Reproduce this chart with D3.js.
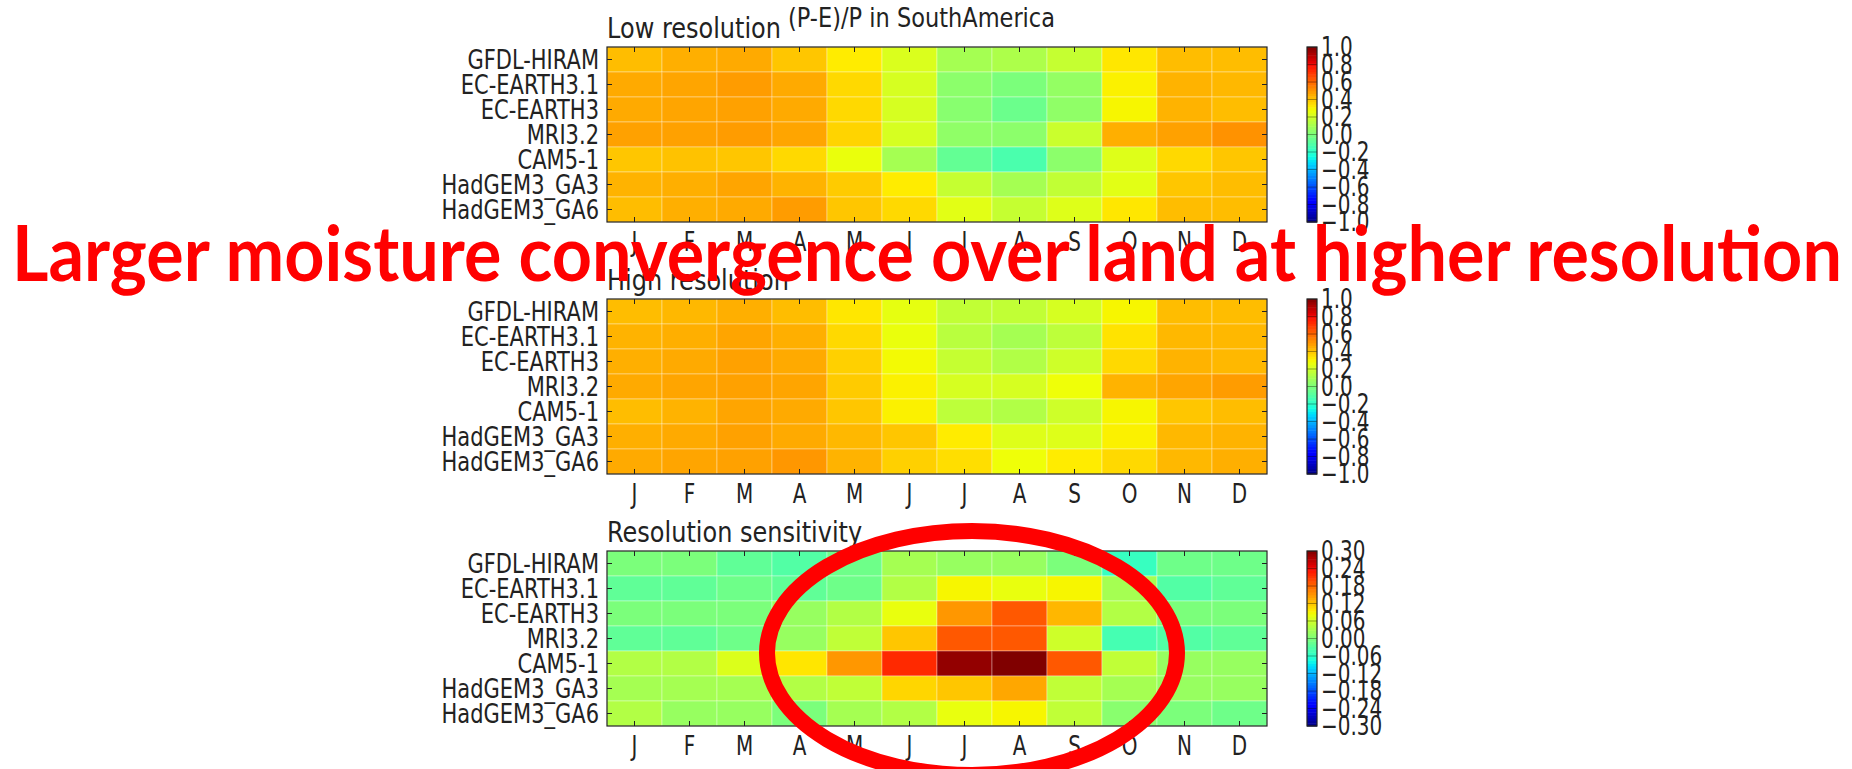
<!DOCTYPE html>
<html>
<head>
<meta charset="utf-8">
<script src="https://cdn.jsdelivr.net/npm/d3@7"></script>
<style>
  body { margin: 0; background: #fff; }
  svg { display: block; }
  text { font-family: "DejaVu Sans", sans-serif; fill: #222; }
</style>
</head>
<body>
<div id="chart"></div>
<script>
const months = ["J", "F", "M", "A", "M", "J", "J", "A", "S", "O", "N", "D"];
const models = ["GFDL-HIRAM", "EC-EARTH3.1", "EC-EARTH3", "MRI3.2", "CAM5-1", "HadGEM3_GA3", "HadGEM3_GA6"];

// (P-E)/P, low resolution runs
const lowRes = [
    [0.42, 0.45, 0.46, 0.40, 0.32, 0.23, 0.10, 0.12, 0.18, 0.33, 0.42, 0.42],
    [0.46, 0.47, 0.49, 0.46, 0.36, 0.22, 0.04, 0.00, 0.06, 0.31, 0.44, 0.43],
    [0.46, 0.47, 0.48, 0.46, 0.36, 0.22, 0.03, -0.04, 0.05, 0.30, 0.44, 0.42],
    [0.48, 0.48, 0.49, 0.47, 0.37, 0.22, 0.05, 0.04, 0.19, 0.45, 0.48, 0.51],
    [0.40, 0.41, 0.40, 0.36, 0.27, 0.10, -0.06, -0.12, 0.04, 0.24, 0.36, 0.40],
    [0.44, 0.45, 0.47, 0.44, 0.39, 0.32, 0.18, 0.10, 0.17, 0.25, 0.40, 0.42],
    [0.42, 0.45, 0.46, 0.49, 0.40, 0.36, 0.25, 0.18, 0.24, 0.33, 0.42, 0.42]
];

// (P-E)/P, high resolution runs
const highRes = [
    [0.42, 0.43, 0.45, 0.42, 0.33, 0.26, 0.17, 0.17, 0.22, 0.30, 0.42, 0.42],
    [0.44, 0.45, 0.47, 0.45, 0.36, 0.27, 0.15, 0.10, 0.16, 0.34, 0.43, 0.43],
    [0.45, 0.46, 0.48, 0.46, 0.38, 0.29, 0.18, 0.13, 0.20, 0.36, 0.44, 0.43],
    [0.46, 0.47, 0.48, 0.47, 0.39, 0.31, 0.22, 0.22, 0.28, 0.44, 0.47, 0.49],
    [0.42, 0.44, 0.47, 0.46, 0.40, 0.31, 0.16, 0.13, 0.20, 0.30, 0.40, 0.42],
    [0.45, 0.46, 0.48, 0.46, 0.43, 0.40, 0.32, 0.24, 0.24, 0.31, 0.43, 0.44],
    [0.46, 0.47, 0.48, 0.50, 0.44, 0.38, 0.35, 0.28, 0.32, 0.36, 0.43, 0.45]
];

// high minus low
const sensitivity = [
    [0.00, 0.00, -0.02, -0.03, -0.01, 0.03, 0.02, 0.02, 0.00, -0.05, -0.01, -0.01],
    [-0.02, -0.02, -0.01, -0.02, -0.01, 0.04, 0.09, 0.08, 0.09, 0.03, -0.03, -0.02],
    [0.00, 0.00, 0.00, 0.02, 0.04, 0.08, 0.15, 0.19, 0.13, 0.04, 0.00, 0.00],
    [-0.02, -0.02, -0.01, 0.02, 0.05, 0.12, 0.19, 0.19, 0.06, -0.04, -0.03, -0.02],
    [0.04, 0.04, 0.07, 0.10, 0.15, 0.22, 0.29, 0.30, 0.19, 0.05, 0.02, 0.02],
    [0.03, 0.03, 0.03, 0.04, 0.05, 0.11, 0.12, 0.14, 0.05, 0.03, 0.02, 0.02],
    [0.04, 0.02, 0.02, 0.00, 0.03, 0.04, 0.08, 0.09, 0.05, 0.01, 0.00, -0.01]
];

const ticksFull = [1.0, 0.8, 0.6, 0.4, 0.2, 0.0, -0.2, -0.4, -0.6, -0.8, -1.0];
const ticksSens = [0.30, 0.24, 0.18, 0.12, 0.06, 0.00, -0.06, -0.12, -0.18, -0.24, -0.30];

const W = 1852, H = 769;
const svg = d3.select("#chart").append("svg").attr("width", W).attr("height", H);

// matplotlib "jet"
const jr = d3.scaleLinear().domain([0, 0.35, 0.66, 0.89, 1]).range([0, 0, 1, 1, 0.5]).clamp(true);
const jg = d3.scaleLinear().domain([0, 0.125, 0.375, 0.64, 0.91, 1]).range([0, 0, 1, 1, 0, 0]).clamp(true);
const jb = d3.scaleLinear().domain([0, 0.11, 0.34, 0.65, 1]).range([0.5, 1, 1, 0, 0]).clamp(true);
const jet = t => d3.rgb(jr(t) * 255, jg(t) * 255, jb(t) * 255);

const panelW = 660, panelH = 175, left = 607;
const x = d3.scaleBand().domain(d3.range(12)).range([left, left + panelW]);

// the original figure was pasted stretched vertically, so text is too
const SY = 1.3;
const place = (px, py, sy) => `translate(${px},${py}) scale(1,${sy || SY})`;

function panel(top, title, sup, data, lim, ticks, fmt) {
    const g = svg.append("g");
    const y = d3.scaleBand().domain(d3.range(models.length)).range([top, top + panelH]);
    const norm = d3.scaleLinear().domain([-lim, lim]).range([0, 1]);

    data.forEach((row, i) => {
        g.selectAll(null).data(row).enter().append("rect")
            .attr("x", (d, j) => x(j))
            .attr("y", y(i))
            .attr("width", x.bandwidth())
            .attr("height", y.bandwidth())
            .attr("fill", d => jet(norm(d)))
            .attr("stroke", "rgba(255,255,255,0.35)")
            .attr("stroke-width", 1);
    });

    g.append("rect").attr("x", left).attr("y", top).attr("width", panelW).attr("height", panelH)
        .attr("fill", "none").attr("stroke", "#222").attr("stroke-width", 1.2);

    // inward ticks
    d3.range(12).forEach(j => {
        const cx = x(j) + x.bandwidth() / 2;
        g.append("line").attr("x1", cx).attr("x2", cx).attr("y1", top).attr("y2", top + 5).attr("stroke", "#222");
        g.append("line").attr("x1", cx).attr("x2", cx).attr("y1", top + panelH).attr("y2", top + panelH - 5).attr("stroke", "#222");
    });
    models.forEach((m, i) => {
        const cy = y(i) + y.bandwidth() / 2;
        g.append("line").attr("x1", left).attr("x2", left + 5).attr("y1", cy).attr("y2", cy).attr("stroke", "#222");
        g.append("line").attr("x1", left + panelW).attr("x2", left + panelW - 5).attr("y1", cy).attr("y2", cy).attr("stroke", "#222");
    });

    g.selectAll(null).data(models).enter().append("text")
        .attr("transform", (d, i) => place(left - 8, y(i) + y.bandwidth() / 2 + 9))
        .attr("text-anchor", "end")
        .style("font-size", "21px")
        .text(d => d);

    g.selectAll(null).data(months).enter().append("text")
        .attr("transform", (d, j) => place(x(j) + x.bandwidth() / 2, top + panelH + 29))
        .attr("text-anchor", "middle")
        .style("font-size", "20px")
        .text(d => d);

    const t = g.append("text").attr("transform", place(left, top - 9, 1.15)).style("font-size", "24px").text(title);
    if (sup) {
        t.append("tspan").attr("dx", 7).attr("dy", -10).style("font-size", "22.5px").text(sup);
    }

    // colorbar
    const cbX = 1307, cbW = 10;
    const cy = d3.scaleLinear().domain([-lim, lim]).range([top + panelH, top]);
    const steps = d3.range(0, 1, 1 / 64);
    g.selectAll(null).data(steps).enter().append("rect")
        .attr("x", cbX)
        .attr("y", d => top + panelH - (d + 1 / 64) * panelH)
        .attr("width", cbW)
        .attr("height", panelH / 64 + 0.5)
        .attr("fill", d => jet(d + 1 / 128));
    g.selectAll(null).data(ticks).enter().append("line")
        .attr("x1", cbX).attr("x2", cbX + cbW)
        .attr("y1", d => cy(d)).attr("y2", d => cy(d))
        .attr("stroke", "rgba(0,0,0,0.35)");
    g.append("rect").attr("x", cbX).attr("y", top).attr("width", cbW).attr("height", panelH)
        .attr("fill", "none").attr("stroke", "#222").attr("stroke-width", 1.2);
    g.selectAll(null).data(ticks).enter().append("text")
        .attr("transform", d => place(cbX + 14, cy(d) + 9))
        .style("font-size", "20px")
        .text(d => d3.format(fmt)(d).replace("-", "\u2212"));
}

panel(47, "Low resolution", "(P-E)/P in SouthAmerica", lowRes, 1, ticksFull, ".1f");
panel(299, "High resolution", null, highRes, 1, ticksFull, ".1f");
panel(551, "Resolution sensitivity", null, sensitivity, 0.3, ticksSens, ".2f");

// annotation ring
svg.append("ellipse")
    .attr("cx", 972).attr("cy", 653).attr("rx", 205).attr("ry", 122)
    .attr("fill", "none").attr("stroke", "#ff0000").attr("stroke-width", 16);

svg.append("text")
    .attr("x", 12).attr("y", 281)
    .attr("textLength", 1830).attr("lengthAdjust", "spacingAndGlyphs")
    .style("font-family", "Lato, 'Open Sans', sans-serif")
    .style("font-weight", "700")
    .style("font-size", "76px")
    .style("fill", "#ff0000")
    .text("Larger moisture convergence over land at higher resolution");
</script>
</body>
</html>
